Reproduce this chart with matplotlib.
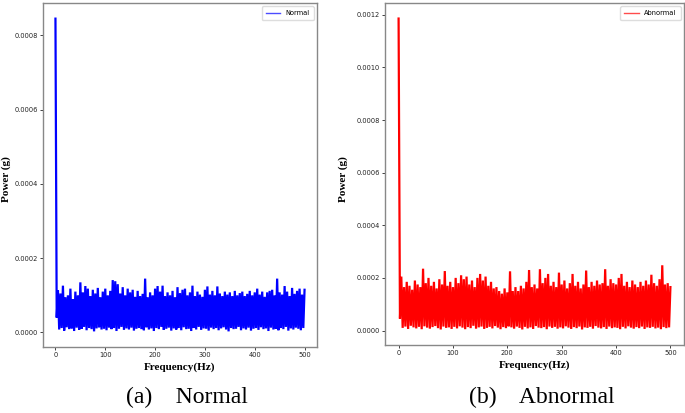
import matplotlib
matplotlib.use("Agg")
import matplotlib.pyplot as plt
from matplotlib.ticker import FormatStrFormatter
import numpy as np

# ---- data (values in micro-g) ----
# spectral peak values at 0, 5, 10, ... 500 Hz
normal_peaks = [
    845, 113, 105, 126, 95, 100, 118, 90, 110, 100,
    135, 108, 125, 118, 98, 115, 105, 120, 95, 110,
    118, 100, 112, 141, 138, 130, 105, 122, 100, 118,
    108, 115, 96, 112, 98, 104, 145, 95, 108, 100,
    118, 125, 110, 126, 98, 108, 100, 112, 95, 122,
    106, 115, 118, 100, 108, 126, 98, 110, 102, 96,
    115, 124, 102, 112, 100, 124, 105, 98, 110, 102,
    108, 98, 112, 100, 106, 110, 98, 104, 112, 100,
    108, 118, 102, 110, 96, 108, 112, 115, 100, 145,
    108, 102, 125, 110, 98, 120, 104, 112, 118, 102,
    115,
]
# spectral trough values at 2.5, 7.5, ... 497.5 Hz
normal_lows = [
    40, 8, 12, 5, 14, 9, 11, 4, 13, 7,
    10, 15, 6, 12, 9, 3, 11, 14, 8, 10,
    6, 13, 9, 12, 4, 10, 15, 7, 11, 8,
    13, 5, 10, 12, 9, 6, 14, 8, 11, 4,
    12, 9, 15, 7, 10, 13, 5, 11, 8, 12,
    6, 14, 9, 10, 4, 12, 8, 15, 7, 11,
    10, 5, 13, 9, 12, 6, 11, 14, 8, 3,
    12, 9, 10, 15, 6, 11, 8, 13, 5, 10,
    12, 7, 14, 9, 11, 4, 13, 8, 10, 6,
    12, 9, 15, 5, 11, 8, 13, 10, 6, 12,
]
abnormal_peaks = [
    1186, 205, 165, 185, 170, 155, 190, 175, 165, 235,
    180, 200, 170, 185, 160, 195, 175, 226, 170, 185,
    165, 200, 180, 210, 195, 205, 175, 190, 165, 200,
    215, 190, 205, 170, 185, 160, 165, 150, 140, 160,
    145, 225, 150, 165, 150, 170, 160, 185, 230, 165,
    175, 160, 233, 180, 200, 215, 170, 185, 165, 220,
    175, 190, 160, 180, 215, 170, 185, 160, 175, 228,
    165, 185, 170, 190, 175, 180, 233, 170, 195, 180,
    175, 200, 215, 170, 185, 165, 190, 175, 165, 185,
    170, 190, 175, 212, 180, 170, 195, 248, 175, 180,
    165,
]
abnormal_lows = [
    45, 10, 15, 6, 18, 12, 8, 14, 5, 16,
    11, 7, 13, 17, 9, 4, 15, 10, 12, 6,
    14, 8, 16, 11, 5, 13, 9, 18, 7, 12,
    15, 6, 10, 14, 8, 17, 11, 5, 13, 9,
    16, 12, 7, 15, 10, 4, 14, 8, 12, 6,
    17, 11, 9, 13, 5, 15, 10, 14, 7, 12,
    8, 16, 11, 6, 13, 9, 15, 4, 12, 10,
    14, 7, 17, 11, 8, 13, 6, 15, 9, 12,
    10, 5, 14, 8, 16, 11, 7, 13, 9, 15,
    6, 12, 10, 14, 8, 11, 5, 13, 9, 12,
]
peak_freqs = np.arange(0, 501, 5.0)
low_freqs = peak_freqs[:-1] + 2.5


def interleave(peaks, lows):
    f = np.empty(len(peaks) + len(lows))
    v = np.empty_like(f)
    f[0::2] = peak_freqs
    f[1::2] = low_freqs
    v[0::2] = np.array(peaks) * 1e-6
    v[1::2] = np.array(lows) * 1e-6
    return f, v


W, H = 685, 413
fig = plt.figure(figsize=(W / 100, H / 100), dpi=100)

panels = [
    dict(rect=[43 / W, 1 - 347 / H, 274 / W, 344 / H], peaks=normal_peaks,
         lows=normal_lows, color="#0000ff", label="Normal",
         yticks=[0, 0.0002, 0.0004, 0.0006, 0.0008], caption="(a)    Normal",
         ylab=(-0.115, 0.488)),
    dict(rect=[385 / W, 1 - 345 / H, 299 / W, 342 / H], peaks=abnormal_peaks,
         lows=abnormal_lows, color="#ff0000", label="Abnormal",
         yticks=[0, 0.0002, 0.0004, 0.0006, 0.0008, 0.0010, 0.0012],
         caption="(b)    Abnormal", ylab=(-0.125, 0.485)),
]

serif = ["Liberation Serif", "DejaVu Serif"]
for p in panels:
    ax = fig.add_axes(p["rect"])
    f, v = interleave(p["peaks"], p["lows"])
    ax.plot(f, v, color=p["color"], lw=1.6, label=p["label"],
            solid_joinstyle="miter")
    ax.set_yticks(p["yticks"])
    ax.set_xticks([0, 100, 200, 300, 400, 500])
    ax.yaxis.set_major_formatter(FormatStrFormatter("%.4f"))
    ax.tick_params(labelsize=4.8, length=2, width=0.6, pad=1.5,
                   colors="#222222")
    for s in ax.spines.values():
        s.set_color("#888888")
        s.set_linewidth(1.0)
    ax.set_xlabel("Frequency(Hz)", fontfamily=serif, fontweight="bold",
                  fontsize=8, labelpad=3)
    ax.set_ylabel("Power (g)", fontfamily=serif, fontweight="bold",
                  fontsize=8)
    ax.yaxis.set_label_coords(*p["ylab"])
    leg = ax.legend(loc="upper right", fontsize=4.8, handlelength=2.2,
                    borderpad=0.6, framealpha=1, edgecolor="#dddddd")
    for line in leg.get_lines():
        line.set_alpha(0.7)
        line.set_linewidth(1.0)
    cx = p["rect"][0] + p["rect"][2] / 2
    fig.text(cx + 0.01, 1 - 397 / H, p["caption"], ha="center", va="center",
             fontfamily=serif, fontsize=17)

fig.savefig("out.png", dpi=100)
